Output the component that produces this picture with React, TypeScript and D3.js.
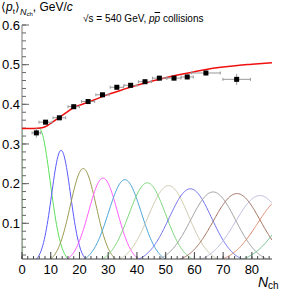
import React from "react";
import * as d3 from "d3";

// measured points <pt> vs Nch
const ptX = [5, 8.2, 13, 18, 23, 28, 33, 37.8, 42.8, 47.8, 52.9, 57.5, 64, 74.7];
const ptY = [0.328, 0.355, 0.366, 0.394, 0.407, 0.424, 0.443, 0.448, 0.457, 0.466, 0.466, 0.469, 0.479, 0.463];
const ptXErr = [1.5, 2.3, 2.2, 2, 2.3, 2.3, 2.3, 2.3, 2.3, 2.4, 2.4, 2.1, 5, 4.8];
const ptYErr = [0.012, 0.005, 0.005, 0.005, 0.005, 0.005, 0.005, 0.005, 0.005, 0.005, 0.005, 0.006, 0.006, 0.014];

// red fit curve
const fitX = [0, 4, 7, 9, 11, 13, 15, 18, 21, 25, 30, 35, 40, 45, 50, 55, 60, 65, 70, 75, 80, 87];
const fitY = [0.339, 0.339, 0.341, 0.347, 0.357, 0.367, 0.377, 0.392, 0.4, 0.411, 0.425, 0.437, 0.448, 0.458, 0.467, 0.475, 0.482, 0.489, 0.494, 0.498, 0.501, 0.505];

// component curves: centre, height, width
const compMean = [6, 13.6, 21.3, 28.2, 35.8, 43.6, 51, 58.6, 66.5, 74.8, 82.8, 91, 99];
const compPeak = [0.339, 0.284, 0.238, 0.214, 0.21, 0.202, 0.195, 0.187, 0.179, 0.175, 0.17, 0.165, 0.16];
const compSigma = [3.8, 3.3, 4.5, 5.0, 5.7, 6.4, 7.0, 7.4, 7.8, 8.2, 8.6, 9.0, 9.4];
const compColor = ["#5de05d", "#5a5aff", "#9a9a50", "#ff5cff", "#4aa3d8", "#7ad67a", "#cfcbb0", "#7070ee", "#a0a0a0", "#a0705e", "#bcbce0", "#e08a70", "#6cc090"];

const xTicks = [0, 10, 20, 30, 40, 50, 60, 70, 80];
const yTicks = [0.1, 0.2, 0.3, 0.4, 0.5, 0.6];

const W = 303;
const H = 291;
const L = 22, R = 272, T = 25, B = 259;

export default function App() {
  const x = d3.scaleLinear().domain([0, 87]).range([L, R]);
  const y = d3.scaleLinear().domain([0.01, 0.6]).range([B, T]);

  const fitLine = d3.line<number>()
    .x((_, i) => x(fitX[i]))
    .y((d) => y(d))
    .curve(d3.curveMonotoneX);

  const grid = d3.range(0, 87.01, 0.25);
  const compLine = d3.line<[number, number]>().x((d) => x(d[0])).y((d) => y(d[1]));
  const comps = compMean.map((m, k) => {
    const pts: [number, number][] = grid.map((g) => {
      const v = k === 0 && g < m ? compPeak[k] : compPeak[k] * Math.exp(-((g - m) ** 2) / (2 * compSigma[k] ** 2));
      return [g, v];
    });
    if (k === 0) pts.unshift([0, 0.0]);
    return compLine(pts) as string;
  });

  const xMinor = d3.range(0, 87, 2);
  const yMinor = d3.range(0.02, 0.6001, 0.02);

  return (
    <svg width={W} height={H} style={{ position: "absolute", left: 0, top: 0, background: "#fff" }}
      fontFamily="'Liberation Sans', Arial, sans-serif">
      <defs>
        <clipPath id="plot">
          <rect x={L} y={T} width={R - L} height={B - T} />
        </clipPath>
      </defs>

      <g clipPath="url(#plot)">
        {comps.map((d, k) => (
          <path key={k} d={d} fill="none" stroke={compColor[k]} strokeWidth={1} />
        ))}
      </g>

      {/* axes */}
      <line x1={L} x2={L} y1={T} y2={B} stroke="#777" strokeWidth={1} />
      <line x1={L} x2={R} y1={B} y2={B} stroke="#444" strokeWidth={1} />
      {yMinor.map((v, i) => (
        <line key={"ym" + i} x1={L} x2={L + 4} y1={y(v)} y2={y(v)} stroke="#666" />
      ))}
      {yTicks.map((v) => (
        <g key={"y" + v}>
          <line x1={L} x2={L + 7} y1={y(v)} y2={y(v)} stroke="#666" />
          <text x={20} y={y(v)} dy="0.35em" textAnchor="end" fontSize={13}>{v.toFixed(1)}</text>
        </g>
      ))}
      {xMinor.map((v) => (
        <line key={"xm" + v} x1={x(v)} x2={x(v)} y1={B} y2={B - 3} stroke="#444" />
      ))}
      {xTicks.map((v) => (
        <g key={"x" + v}>
          <line x1={x(v)} x2={x(v)} y1={B} y2={B - 7} stroke="#444" />
          <text x={x(v)} y={B + 15} textAnchor="middle" fontSize={13}>{v}</text>
        </g>
      ))}

      {/* red fit */}
      <path d={fitLine(fitY) as string} fill="none" stroke="#f01010" strokeWidth={1.5} clipPath="url(#plot)" />

      {/* data points */}
      {ptX.map((px, i) => (
        <g key={"p" + i} stroke="#999" strokeWidth={1}>
          <line x1={x(px - ptXErr[i])} x2={x(px + ptXErr[i])} y1={y(ptY[i])} y2={y(ptY[i])} />
          <line x1={x(px - ptXErr[i])} x2={x(px - ptXErr[i])} y1={y(ptY[i]) - 1.5} y2={y(ptY[i]) + 1.5} />
          <line x1={x(px + ptXErr[i])} x2={x(px + ptXErr[i])} y1={y(ptY[i]) - 1.5} y2={y(ptY[i]) + 1.5} />
          <line x1={x(px)} x2={x(px)} y1={y(ptY[i] - ptYErr[i])} y2={y(ptY[i] + ptYErr[i])} />
          <rect x={x(px) - 2.5} y={y(ptY[i]) - 2.5} width={5} height={5} fill="#000" stroke="none" />
        </g>
      ))}

      {/* titles */}
      <text x={1} y={11} fontSize={12}>
        <tspan>⟨</tspan>
        <tspan fontStyle="italic">p</tspan>
        <tspan fontSize={8} dy={3}>t</tspan>
        <tspan dy={-3}>⟩</tspan>
        <tspan fontSize={9} fontStyle="italic" dy={4}>N</tspan>
        <tspan fontSize={6} dy={1}>ch</tspan>
        <tspan dy={-5}>, GeV/</tspan>
        <tspan fontStyle="italic">c</tspan>
      </text>
      <text x={83} y={22} fontSize={10}>
        <tspan>√s = 540 GeV, </tspan>
        <tspan fontStyle="italic">p</tspan>
        <tspan fontStyle="italic" textDecoration="overline">p</tspan>
        <tspan> collisions</tspan>
      </text>
      <text x={258} y={287} fontSize={14} fontStyle="italic">N</text>
      <text x={268} y={289} fontSize={10}>ch</text>
    </svg>
  );
}
